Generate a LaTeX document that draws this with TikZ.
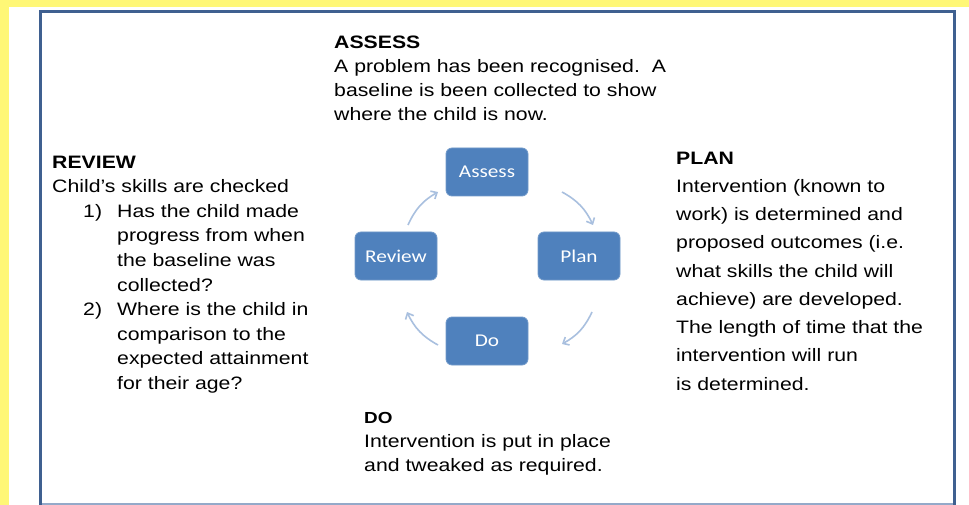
\documentclass[tikz,border=0pt]{standalone}
\usepackage{fontspec}
\setmainfont{Liberation Sans}[FakeStretch=1.18]
\newfontfamily\boxfont{Carlito}[FakeStretch=1.18]
\usetikzlibrary{arrows.meta}
\definecolor{yel}{HTML}{FFF776}
\definecolor{frameblue}{HTML}{3F6090}
\definecolor{framelight}{HTML}{94A9C9}
\definecolor{boxblue}{HTML}{4F81BD}
\definecolor{arrowblue}{HTML}{A9C0DF}
\begin{document}
\begin{tikzpicture}[x=1pt,y=-1pt,
  stage/.style={rectangle, rounded corners=6pt, fill=boxblue, draw=boxblue!80!white, line width=0.8pt,
    minimum width=82pt, minimum height=48pt, inner sep=0pt, text=white,
    font=\boxfont\fontsize{18}{20}\selectfont},
  cyc/.style={draw=arrowblue, line width=1.6pt, -{Straight Barb[length=5pt,width=9pt]}},
  desc/.style={anchor=north west, inner sep=0pt, align=left, text=black}]
\useasboundingbox (0,0) rectangle (969,505);
\fill[white] (0,0) rectangle (969,505);
\fill[yel] (0,0) rectangle (969,7);
\fill[yel] (0,0) rectangle (9,505);
\draw[framelight, line width=2pt] (41,504) -- (954.5,504);
\draw[frameblue, line width=3pt] (40.7,505) -- (40.7,11.5) -- (954.5,11.5) -- (954.5,505);

% description texts
\node[desc, font=\fontsize{18}{24}\selectfont] (assesstxt) at (334,36)
  {\textbf{ASSESS}\\A problem has been recognised.\ \ A\\baseline is been collected to show\\where the child is now.};
\node[desc, font=\fontsize{18}{24.6}\selectfont] (reviewtxt) at (52,155.5)
  {\textbf{REVIEW}\\Child’s skills are checked\\
   \hspace*{31pt}\makebox[34pt][l]{1)}Has the child made\\
   \hspace*{65pt}progress from when\\
   \hspace*{65pt}the baseline was\\
   \hspace*{65pt}collected?\\
   \hspace*{31pt}\makebox[34pt][l]{2)}Where is the child in\\
   \hspace*{65pt}comparison to the\\
   \hspace*{65pt}expected attainment\\
   \hspace*{65pt}for their age?};
\node[desc, font=\fontsize{18}{28.25}\selectfont] (plantxt) at (676,151.5)
  {\textbf{PLAN}\\Intervention (known to\\work) is determined and\\proposed outcomes (i.e.\\what skills the child will\\achieve) are developed.\\The length of time that the\\intervention will run\\is determined.};
\node[desc, font=\fontsize{18}{24}\selectfont] (dotxt) at (364,412)
  {{\fontsize{16}{18}\selectfont\textbf{DO}}\\Intervention is put in place\\and tweaked as required.};

% cycle
\node[stage] (assess) at (487,172) {Assess};
\node[stage] (plan) at (579,256) {Plan};
\node[stage] (do) at (487,341) {Do};
\node[stage] (review) at (396,256) {Review};

\coordinate (ap1) at (562,192);
\coordinate (ap2) at (593,225);
\coordinate (pd1) at (592,312);
\coordinate (pd2) at (562,344);
\coordinate (dr1) at (438,345);
\coordinate (dr2) at (407,312);
\coordinate (ra1) at (408,225);
\coordinate (ra2) at (438,192);
\draw[cyc] (ap1) to[bend left=18] (ap2);
\draw[cyc] (pd1) to[bend left=18] (pd2);
\draw[cyc] (dr1) to[bend left=18] (dr2);
\draw[cyc] (ra1) to[bend left=18] (ra2);
\end{tikzpicture}
\end{document}
